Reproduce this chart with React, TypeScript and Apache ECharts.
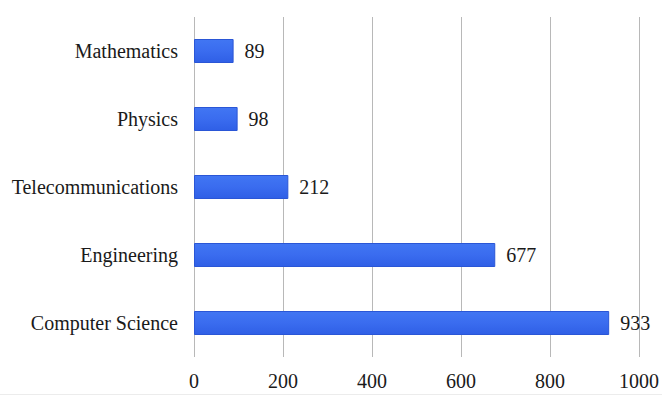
import React, { useEffect, useRef } from "react";
import * as echarts from "echarts";

const categories = ["Computer Science", "Engineering", "Telecommunications", "Physics", "Mathematics"];
const values = [933, 677, 212, 98, 89];
const xMin = 0;
const xMax = 1000;
const xStep = 200;

export default function App() {
  const ref = useRef<HTMLDivElement>(null);
  useEffect(() => {
    if (!ref.current) return;
    const chart = echarts.init(ref.current, undefined, { renderer: "svg" });
    const font = "'Liberation Serif', 'Times New Roman', serif";
    chart.setOption({
      animation: false,
      backgroundColor: "#ffffff",
      grid: { left: 194, right: 22, top: 17, bottom: 40 },
      graphic: [
        {
          type: "line",
          shape: { x1: 0, y1: 394.5, x2: 662, y2: 394.5 },
          style: { stroke: "#ececec", lineWidth: 1 },
          silent: true,
        },
      ],
      xAxis: {
        type: "value",
        min: xMin,
        max: xMax,
        interval: xStep,
        axisLine: { show: false },
        axisTick: { show: false },
        splitLine: { show: true, lineStyle: { color: "#b8b8b8", width: 1 } },
        axisLabel: {
          fontFamily: font,
          fontSize: 20,
          color: "#1a1a1a",
          margin: 14,
          formatter: (v: number) => String(v),
        },
      },
      yAxis: {
        type: "category",
        data: categories,
        axisLine: { show: false },
        axisTick: { show: false },
        axisLabel: { fontFamily: font, fontSize: 20, color: "#1a1a1a", margin: 16 },
      },
      series: [
        {
          type: "bar",
          data: values,
          barWidth: 24,
          itemStyle: {
            color: new echarts.graphic.LinearGradient(0, 0, 0, 1, [
              { offset: 0, color: "#4176f3" },
              { offset: 0.5, color: "#3a6cef" },
              { offset: 1, color: "#2f5fe6" },
            ]),
            borderColor: "#2a56d6",
            borderWidth: 1,
          },
          label: {
            show: true,
            position: "right",
            distance: 11,
            fontFamily: font,
            fontSize: 20,
            color: "#1a1a1a",
          },
        },
      ],
    });
    return () => chart.dispose();
  }, []);
  return <div ref={ref} style={{ position: "fixed", left: 0, top: 0, width: 662, height: 397 }} />;
}
